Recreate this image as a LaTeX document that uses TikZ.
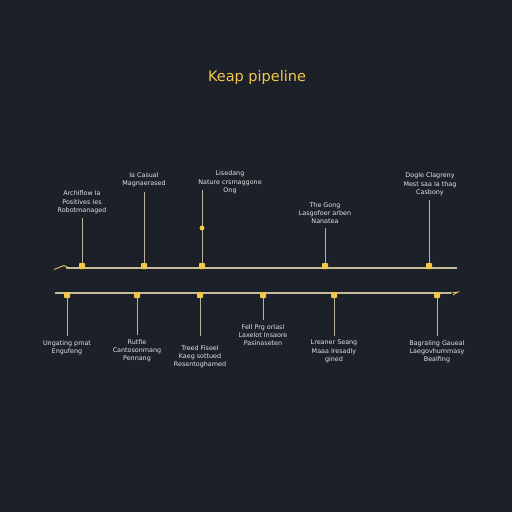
\documentclass[tikz,border=0pt]{standalone}
\usepackage{fontspec}
\setmainfont{DejaVu Sans}
\usetikzlibrary{arrows.meta}
\definecolor{bg}{HTML}{1C2029}
\definecolor{gold}{HTML}{F2C84B}
\definecolor{rail}{HTML}{C4BA98}
\definecolor{stem}{HTML}{B8B29E}
\definecolor{txt}{HTML}{E4E4E4}
\begin{document}
\begin{tikzpicture}[x=1pt,y=-1pt,
  marker/.style={fill=gold,draw=none,minimum size=6pt,inner sep=0pt,rounded corners=0.8pt},
  stemline/.style={draw=stem,line width=1pt},
  railline/.style={draw=rail,line width=1.3pt},
  lbl/.style={text=txt,font=\fontsize{6.4}{8.3}\selectfont,align=center,inner sep=0pt},
  title/.style={text=gold,font=\fontsize{14.5}{16}\selectfont}]
\fill[bg] (0,0) rectangle (512,512);
\useasboundingbox (0,0) rectangle (512,512);
\node[title] (title) at (257,77) {Keap pipeline};
% top rail
\coordinate (tl) at (66,268);
\coordinate (tr) at (457,268);
\draw[railline] (tl) -- (tr);
\coordinate (ta1) at (54,269.5);
\coordinate (ta2) at (64,265.5);
\coordinate (ta3) at (69,268);
\draw[draw=gold!80!rail,line width=0.9pt] (ta1) -- (ta2) -- (ta3);
% bottom rail
\coordinate (bl) at (55,293);
\coordinate (br) at (451,293);
\coordinate (bt) at (458,292);
\coordinate (bt2) at (453,295);
\draw[railline] (bl) -- (br);
\draw[draw=gold!80!rail,line width=0.8pt] (br) -- (bt) -- (bt2);
% top markers
\foreach \n/\x/\y in {1/82/218,2/144/192,3/202/190,4/325/228,5/429/200}{
  \node[marker] (t\n) at (\x,266) {};
  \coordinate (te\n) at (\x,\y);
  \draw[stemline] (t\n) -- (te\n);
}
\node[marker,circle,minimum size=5pt] (tdot) at (202,228) {};
% bottom markers
\foreach \n/\x/\y in {1/67/336,2/137/335,3/200/336,4/263/320,5/334/336,6/437/336}{
  \node[marker] (b\n) at (\x,295) {};
  \coordinate (be\n) at (\x,\y);
  \draw[stemline] (b\n) -- (be\n);
}
% top labels
\node[lbl,anchor=south] (lt1) at (82,214) {Archiflow Ia\\Positives Ies\\Robotmanaged};
\node[lbl,anchor=south] (lt2) at (144,187) {Ia Casual\\Magnaerased};
\node[lbl,anchor=south] (lt3) at (230,194) {Lisedang\\Nature crsmaggone\\Ong};
\node[lbl,anchor=south] (lt4) at (325,224) {The Gong\\Lasgofoer arben\\Nanatea};
\node[lbl,anchor=south] (lt5) at (430,196) {Dogle Clagreny\\Mest saa Ia thag\\Casbony};
% bottom labels
\node[lbl,anchor=north] (lb1) at (67,340) {Ungating pmat\\Engufeng};
\node[lbl,anchor=north] (lb2) at (137,339) {Rutfie\\Cantosonmang\\Pennang};
\node[lbl,anchor=north] (lb3) at (200,345) {Treed Fiseel\\Kaeg sottued\\Resentoghamed};
\node[lbl,anchor=north] (lb4) at (263,324) {Fell Prg orlasl\\Laxelot Insaore\\Pasinaseten};
\node[lbl,anchor=north] (lb5) at (334,340) {Lreaner Seang\\Maaa Iresadly\\gined};
\node[lbl,anchor=north] (lb6) at (437,340) {Bagraling Gaueal\\Laegovhummasy\\Bealfing};
\end{tikzpicture}
\end{document}
